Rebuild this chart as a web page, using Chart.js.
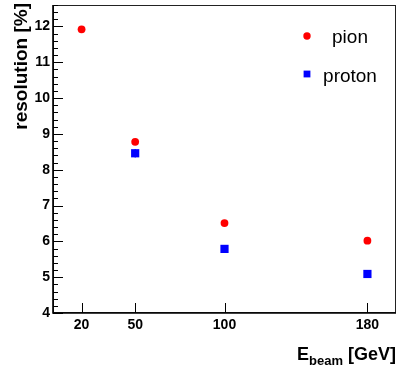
<html>
<!-- Energy resolution vs beam energy, pion and proton -->
<head>
  <script src="https://cdn.jsdelivr.net/npm/chart.js@4.4.0/dist/chart.umd.min.js"></script>
  <style>body{margin:0;background:#fff}</style>
</head>
<body>
<canvas id="rc" width="398" height="366"></canvas>
<script>
  // beam energies [GeV] and measured resolutions [%]
  var pionE = [20, 50, 100, 180];
  var pionRes = [11.92, 8.78, 6.51, 6.02];
  var protonE = [50, 100, 180];
  var protonRes = [8.46, 5.79, 5.09];
  var protonErr = [0.12, 0.03, 0.03];
  var xTicks = [20, 50, 100, 180];
  var yTicks = [4, 5, 6, 7, 8, 9, 10, 11, 12];

  eb=s=>document.getElementById(s);
  var FF = '"Liberation Sans", Arial, sans-serif';
  var rc;

  function pts(xs, ys){ return xs.map((x,i)=>({x:x, y:ys[i]})); }

  // ROOT-like frame: inward ticks, box, titles, legend
  var frame = {
    id: 'frame',
    beforeDatasetsDraw(c){
      var ctx=c.ctx, xs=c.scales.x, ys=c.scales.y;
      ctx.save();
      ctx.strokeStyle='#0000ff'; ctx.lineWidth=1;
      protonE.forEach((e,i)=>{
        var px=xs.getPixelForValue(e);
        ctx.beginPath();
        ctx.moveTo(px, ys.getPixelForValue(protonRes[i]-protonErr[i]));
        ctx.lineTo(px, ys.getPixelForValue(protonRes[i]+protonErr[i]));
        ctx.stroke();
      });
      ctx.restore();
    },
    afterDraw(c){
      var ctx=c.ctx, a=c.chartArea, xs=c.scales.x, ys=c.scales.y;
      ctx.save();
      ctx.strokeStyle='#222'; ctx.lineWidth=1;
      ctx.strokeRect(a.left+0.5, a.top+0.5, a.right-a.left-1, a.bottom-a.top-1);
      ctx.strokeStyle='#000'; ctx.lineWidth=1.6;
      ctx.beginPath();
      ctx.moveTo(a.left, a.top); ctx.lineTo(a.left, a.bottom); ctx.lineTo(a.right, a.bottom);
      ctx.stroke();
      ctx.lineWidth=1;
      ctx.beginPath();
      for(var v=4; v<=12.6+1e-6; v+=0.2){
        var py=Math.round(ys.getPixelForValue(v))+0.5;
        var major=Math.abs(v-Math.round(v))<1e-6;
        ctx.moveTo(a.left, py); ctx.lineTo(a.left+(major?10:5), py);
      }
      xTicks.forEach(t=>{
        var px=Math.round(xs.getPixelForValue(t))+0.5;
        ctx.moveTo(px, a.bottom); ctx.lineTo(px, a.bottom-10);
      });
      ctx.stroke();

      // axis titles
      ctx.fillStyle='#000';
      ctx.font='bold 19px '+FF;
      ctx.save();
      ctx.translate(27, 3); ctx.rotate(-Math.PI/2);
      ctx.textAlign='right'; ctx.textBaseline='alphabetic';
      ctx.fillText('resolution [%]', 0, 0);
      ctx.restore();

      var big='bold 18px '+FF, sub='bold 13px '+FF;
      ctx.font=big; var wE=ctx.measureText('E').width, wT=ctx.measureText(' [GeV]').width;
      ctx.font=sub; var wS=ctx.measureText('beam').width;
      var x0=396-(wE+wS+wT);
      ctx.textAlign='left';
      ctx.font=big; ctx.fillText('E', x0, 360);
      ctx.font=sub; ctx.fillText('beam', x0+wE, 365);
      ctx.font=big; ctx.fillText(' [GeV]', x0+wE+wS, 360);

      // legend
      ctx.font='19px '+FF; ctx.textAlign='center';
      ctx.fillStyle='#ff0000';
      ctx.beginPath(); ctx.arc(307, 36, 3.7, 0, 2*Math.PI); ctx.fill();
      ctx.fillStyle='#0000ff';
      ctx.fillRect(303.6, 70.6, 6.8, 6.8);
      ctx.fillStyle='#000';
      ctx.fillText(c.data.datasets[0].label, 350, 43);
      ctx.fillText(c.data.datasets[1].label, 350, 82);
      ctx.restore();
    }
  };

  function rci(){
    rc = new Chart(eb('rc'), {
      type: 'scatter',
      data: {
        datasets: [{
          label: 'pion',
          data: pts(pionE, pionRes),
          pointStyle: 'circle',
          pointRadius: 3.9,
          borderWidth: 0,
          backgroundColor: '#ff0000',
          borderColor: '#ff0000'
        },{
          label: 'proton',
          data: pts(protonE, protonRes),
          pointStyle: 'rect',
          pointRadius: 5.8,
          borderWidth: 0,
          backgroundColor: '#0000ff',
          borderColor: '#0000ff'
        }]
      },
      options: {
        responsive: false,
        animation: false,
        events: [],
        layout: { autoPadding: false, padding: { top: 5, right: 2, left: 0, bottom: 0 } },
        plugins: { legend: { display: false }, tooltip: { enabled: false } },
        scales: {
          x: {
            type: 'linear', min: 4, max: 196,
            afterBuildTicks: s=>{ s.ticks = xTicks.map(v=>({value:v})); },
            afterFit: s=>{ s.height = 53; s.paddingLeft = 0; s.paddingRight = 0; },
            grid: { display: false, drawTicks: false },
            border: { display: false },
            ticks: { padding: 4, color: '#000', maxRotation: 0, font: { family: FF, size: 14, weight: 'bold' } }
          },
          y: {
            type: 'linear', min: 4, max: 12.6,
            afterBuildTicks: s=>{ s.ticks = yTicks.map(v=>({value:v})); },
            afterFit: s=>{ s.width = 53; s.paddingTop = 0; s.paddingBottom = 0; },
            grid: { display: false, drawTicks: false },
            border: { display: false },
            ticks: { padding: 3, color: '#000', font: { family: FF, size: 14, weight: 'bold' } }
          }
        }
      },
      plugins: [frame]
    });
  }
  window.addEventListener('load', rci);
</script>
</body>
</html>
